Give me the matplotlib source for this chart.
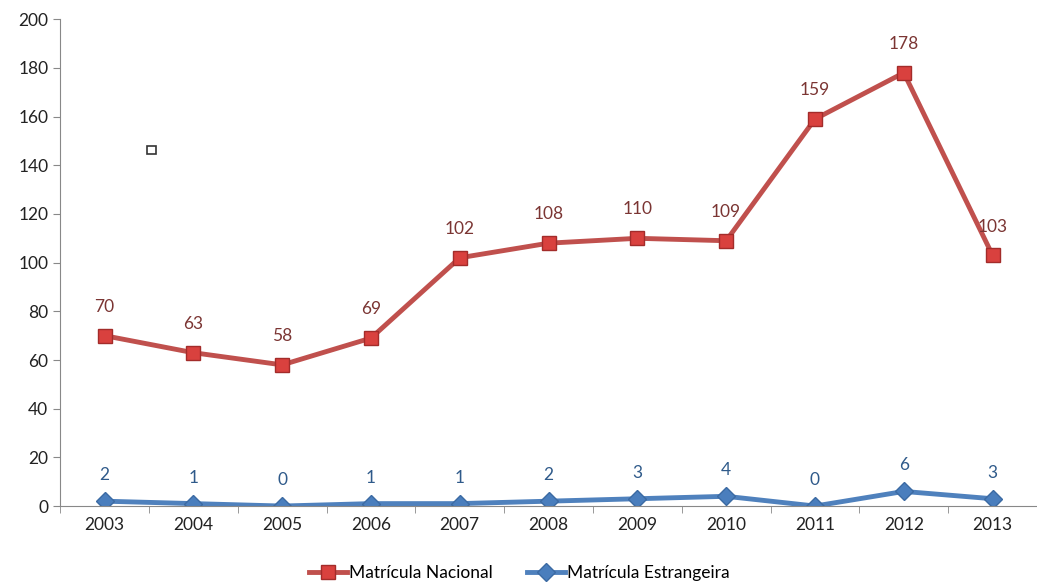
import matplotlib.pyplot as plt
import numpy as np
from matplotlib.patches import Rectangle

#DATA
years = ['2003', '2004', '2005', '2006', '2007', '2008', '2009', '2010', '2011', '2012', '2013']
nacional = [70, 63, 58, 69, 102, 108, 110, 109, 159, 178, 103]
estrangeira = [2, 1, 0, 1, 1, 2, 3, 4, 0, 6, 3]

plt.rcParams['font.family'] = ['Lato', 'DejaVu Sans']

fig = plt.figure( figsize = (10.37, 5.83), dpi = 100 )
ax = fig.add_axes( [0.058, 0.132, 0.942, 0.835] )

x = np.arange( len( years ) )

ax.plot( x, nacional, color = '#c0504d', linewidth = 3.5, marker = 's', markersize = 10,
         markerfacecolor = '#d9413e', markeredgecolor = '#a32c2a', label = 'Matrícula Nacional' )
ax.plot( x, estrangeira, color = '#4f81bd', linewidth = 3.5, marker = 'D', markersize = 9,
         markerfacecolor = '#4a7ebd', markeredgecolor = '#3b6aa3', label = 'Matrícula Estrangeira' )

for xi, v in zip( x, nacional ):
    ax.annotate( str( v ), ( xi, v ), xytext = ( 0, 15 ), textcoords = 'offset points',
                 ha = 'center', va = 'bottom', fontsize = 12.5, color = '#7b3533' )
for xi, v in zip( x, estrangeira ):
    ax.annotate( str( v ), ( xi, v ), xytext = ( 0, 13 ), textcoords = 'offset points',
                 ha = 'center', va = 'bottom', fontsize = 12.5, color = '#2f5a8a' )

ax.set_xlim( -0.5, len( years ) - 0.5 )
ax.set_ylim( 0, 200 )
ax.set_yticks( range( 0, 201, 20 ) )
ax.set_xticks( x )
ax.set_xticklabels( years )
ax.set_xticks( np.arange( -0.5, len( years ), 1 ), minor = True )
ax.tick_params( axis = 'x', which = 'major', length = 0, labelsize = 12.5, pad = 8, labelcolor = '#222222' )
ax.tick_params( axis = 'x', which = 'minor', length = 5, color = '#888888' )
ax.tick_params( axis = 'y', length = 5, color = '#888888', labelsize = 12.5, labelcolor = '#222222' )

for s in ['top', 'right']:
    ax.spines[s].set_visible( False )
for s in ['left', 'bottom']:
    ax.spines[s].set_color( '#888888' )

# small stray box seen in the original
fig.patches.append( Rectangle( (0.1415, 0.735), 0.0085, 0.015, transform = fig.transFigure,
                               fill = False, edgecolor = '#333333', linewidth = 1.2 ) )

ax.legend( loc = 'center', bbox_to_anchor = ( 0.47, -0.138 ), ncol = 2, frameon = False,
           fontsize = 12.5, handlelength = 2.2, handletextpad = 0.1, columnspacing = 2.0,
           borderpad = 0 )

fig.savefig( 'out.png', dpi = 100 )
